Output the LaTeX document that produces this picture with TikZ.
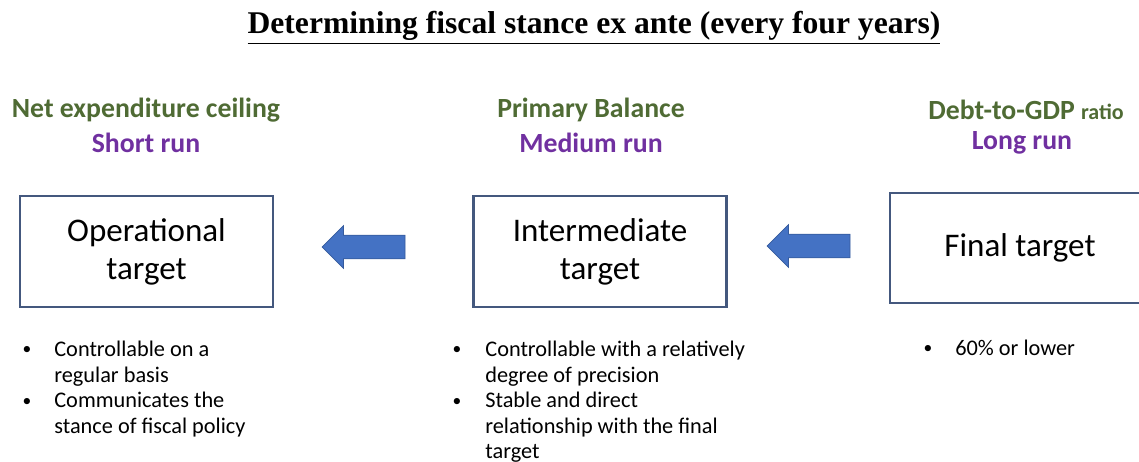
\documentclass[tikz,border=0pt]{standalone}
\usepackage{fontspec}
\setmainfont{Carlito}
\newfontfamily\titlefont{Liberation Serif}
\usetikzlibrary{positioning, shapes.arrows}
\definecolor{headgreen}{HTML}{4F6B34}
\definecolor{runpurple}{HTML}{7030A0}
\definecolor{boxblue}{HTML}{44587E}
\definecolor{arrblue}{HTML}{4472C4}

\begin{document}
\begin{tikzpicture}[x=0.02cm, y=-0.02cm,
    tgt/.style={draw=boxblue, line width=1.2pt, minimum width=5.06cm,
                minimum height=2.22cm, align=center, inner sep=0pt,
                font=\fontsize{18.8}{21.5}\selectfont},
    hdr/.style={font=\fontsize{15.8}{18}\selectfont\bfseries, text=headgreen, inner sep=0pt},
    runlbl/.style={font=\fontsize{15.8}{18}\selectfont\bfseries, text=runpurple, inner sep=0pt},
    flow/.style={single arrow, fill=arrblue, draw=arrblue!80!black, line width=0.4pt,
                 minimum height=1.66cm, text height=0.23cm, text depth=0.23cm,
                 single arrow head extend=0.19cm, inner sep=0pt, shape border rotate=180},
    dot/.style={font=\fontsize{10}{12}\selectfont, inner sep=0pt, anchor=base},
    item/.style={font=\fontsize{12.7}{14.4}\selectfont, align=left,
                 anchor=north west, inner sep=0pt},
]
    \clip (0,0) rectangle (1139,462);
    \useasboundingbox (0,0) rectangle (1139,462);

    % Title
    \node[font=\fontsize{18}{21}\titlefont\bfseries, inner sep=0pt] (title) at (594, 28)
        {\underline{Determining fiscal stance ex ante (every four years)}};

    % Headings
    \node[hdr] (h1) at (146, 110) {Net expenditure ceiling};
    \node[runlbl] (r1) at (146, 143) {Short run};
    \node[hdr] (h2) at (591, 110) {Primary Balance};
    \node[runlbl] (r2) at (591, 143) {Medium run};
    \node[hdr] (h3) at (1026, 110) {Debt-to-GDP {\fontsize{12.5}{14}\selectfont ratio}};
    \node[runlbl] (r3) at (1022, 143) {Long run};

    % Targets
    \node[tgt] (op) at (146.5, 251.5) {Operational\\target};
    \node[tgt] (mid) at (600, 251.5) {Intermediate\\target};
    \node[tgt, minimum width=5.2cm, minimum height=2.2cm] (fin) at (1020, 248) {Final target};

    % Block arrows
    \node[flow] (arrL) at (369.5, 247) {};
    \node[flow] (arrR) at (814.5, 246) {};

    % Bullets
    \node[dot] (d11) at (27, 355) {•};
    \node[item] (i11) at (54, 341) {Controllable on a\\regular basis};
    \node[dot] (d12) at (27, 406) {•};
    \node[item] (i12) at (54, 392) {Communicates the\\stance of fiscal policy};

    \node[dot] (d21) at (457, 355) {•};
    \node[item] (i21) at (485, 341) {Controllable with a relatively\\degree of precision};
    \node[dot] (d22) at (457, 406) {•};
    \node[item] (i22) at (485, 392) {Stable and direct\\relationship with the final\\target};

    \node[dot] (d31) at (928, 354) {•};
    \node[item] (i31) at (955, 340) {60\% or lower};
\end{tikzpicture}
\end{document}
